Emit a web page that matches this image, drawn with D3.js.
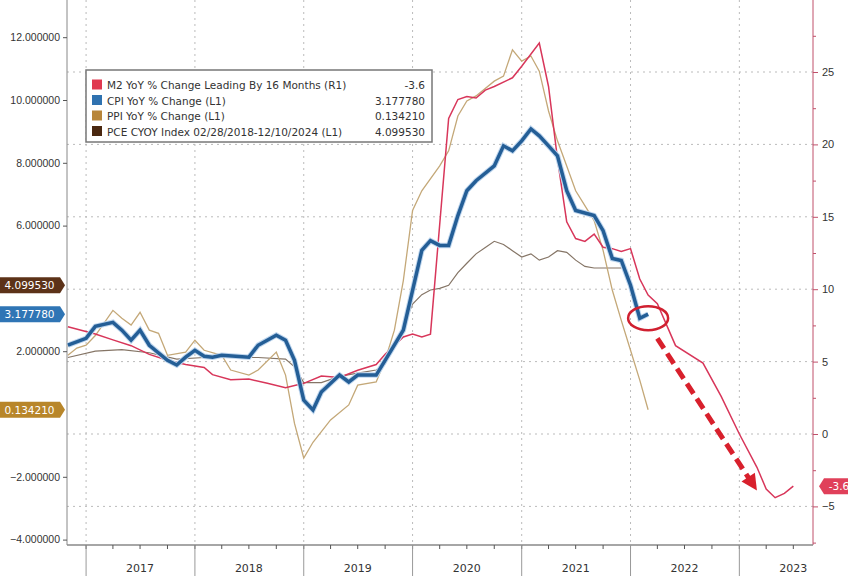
<!DOCTYPE html>
<html><head><meta charset="utf-8">
<script src="https://cdn.jsdelivr.net/npm/d3@7"></script>
<style>body{margin:0;background:#fff}svg{display:block;font-family:"DejaVu Sans",sans-serif}</style>
</head><body><svg id="chart" width="848" height="576"></svg>
<script>
// month index 0 = Nov 2016
const years = ["2017", "2018", "2019", "2020", "2021", "2022", "2023"];
const leftTicks = [-4, -2, 2, 6, 8, 10, 12]; // 0 and 4 sit under the value tags
const rightTicks = [-5, 0, 5, 10, 15, 20, 25];
const m2 = [[0,7.4],[3,6.9],[5,6.5],[7,6.1],[9,5.5],[11,5.1],[13,4.8],[15,4.6],[16,4.1],[18,3.75],[20,3.8],[22,3.5],[24,3.2],[26,3.5],[28,4.0],[30,3.9],[32,4.4],[34,4.8],[35,5.5],[37,6.7],[38,6.9],[39,6.7],[40,6.9],[42,21.8],[43,23.1],[44,23.3],[45,23.2],[46,23.75],[47,24],[49,24.6],[50,25.4],[52,27],[53,24.0],[54,19],[55,14.65],[56,13.5],[57,13.3],[58,13.8],[59,12.9],[60,12.8],[61,12.6],[62,12.8],[63,10.7],[64,9.6],[65,9.0],[67,6.1],[70,4.9],[72,2.6],[74,0],[76,-2.3],[77,-3.8],[78,-4.4],[79,-4.1],[80,-3.6]];
const cpi = [[0,2.19],[2,2.41],[3,2.79],[5,2.92],[6,2.67],[7,2.35],[8,2.67],[9,2.19],[11,1.71],[12,1.56],[13,1.81],[14,2.03],[15,1.84],[16,1.81],[17,1.87],[20,1.81],[21,2.19],[23,2.51],[24,2.35],[25,1.71],[26,0.44],[27,0.13],[28,0.70],[30,1.24],[31,1.02],[32,1.24],[34,1.24],[35,1.71],[37,2.67],[38,3.94],[39,5.21],[40,5.52],[41,5.37],[42,5.37],[43,6.32],[44,7.11],[45,7.43],[47,7.9],[48,8.54],[49,8.38],[50,8.7],[51,9.08],[52,8.86],[53,8.54],[54,8.22],[55,7.11],[56,6.48],[58,6.32],[59,5.84],[60,4.95],[61,4.89],[62,4.1],[63,3.05],[64,3.18]];
const ppi = [[0,1.87],[1,2.1],[2,2.19],[3,2.5],[5,3.3],[6,3.05],[7,2.83],[8,3.24],[9,2.67],[10,2.57],[11,1.87],[13,1.97],[14,2.35],[15,2.03],[17,1.87],[18,1.4],[20,1.24],[21,1.4],[23,1.97],[24,1.24],[25,-0.3],[26,-1.4],[27,-0.9],[29,-0.19],[31,0.29],[32,0.92],[34,1.02],[35,1.71],[36,2.67],[37,4.25],[38,6.48],[39,7.11],[41,7.9],[42,8.38],[43,9.49],[44,9.97],[45,10.13],[47,10.6],[48,10.76],[49,11.6],[50,11.24],[51,11.4],[52,10.92],[53,9.65],[54,8.7],[55,7.9],[56,7.11],[58,6.16],[59,5.21],[60,3.94],[61,2.98],[62,2.03],[63,1.08],[64,0.134]];
const pce = [[0,1.8],[3,2.0],[6,2.05],[9,1.95],[12,1.75],[15,1.8],[18,1.8],[21,1.8],[24,1.75],[25,1.5],[26,1.0],[28,1.0],[30,1.2],[32,1.3],[34,1.4],[35,1.6],[36,2.2],[37,2.8],[38,3.5],[39,3.8],[40,3.95],[41,4.0],[42,4.1],[43,4.5],[44,4.8],[45,5.1],[46,5.3],[47,5.5],[48,5.4],[49,5.2],[50,5.0],[51,5.1],[52,4.9],[53,5.0],[54,5.2],[55,5.15],[56,4.9],[57,4.7],[58,4.65],[59,4.65],[60,4.65],[61,4.65]];
const legendNames = ["M2 YoY % Change Leading By 16 Months (R1)", "CPI YoY % Change (L1)", "PPI YoY % Change (L1)", "PCE CYOY Index 02/28/2018-12/10/2024 (L1)"];
const legendValues = ["-3.6", "3.177780", "0.134210", "4.099530"];

const start = new Date(2016, 10, 1);
const toDate = (i) => d3.timeMonth.offset(start, i);
const svg = d3.select("#chart");
const pLeft = 67, pRight = 813, pTop = 0, pBottom = 545;

const x = d3.scaleTime().domain([new Date(2016, 9, 29), new Date(2023, 8, 5)]).range([pLeft, pRight]);
const yL = d3.scaleLinear().domain([0, 10]).range([414, 100]);
const yR = d3.scaleLinear().domain([0, 25]).range([434, 72]);

// grid
svg.append("g").selectAll("line").data(rightTicks).join("line")
  .attr("x1", pLeft).attr("x2", pRight).attr("y1", (d) => yR(d)).attr("y2", (d) => yR(d))
  .attr("stroke", "#bbb").attr("stroke-dasharray", "2,4");
svg.append("g").selectAll("line").data(years).join("line")
  .attr("x1", (d) => x(new Date(+d, 0, 1))).attr("x2", (d) => x(new Date(+d, 0, 1)))
  .attr("y1", pTop).attr("y2", pBottom).attr("stroke", "#bbb").attr("stroke-dasharray", "2,4");

// axes
const gl = svg.append("g").attr("transform", `translate(${pLeft},0)`)
  .call(d3.axisLeft(yL).tickValues(leftTicks).tickFormat(d3.format(".6f")).tickSize(4).tickPadding(3));
gl.select(".domain").attr("stroke", "#888").attr("d", `M0,${pTop}V${pBottom}`);
gl.selectAll("text").attr("font-size", 10.5).attr("fill", "#333");
gl.selectAll("line").attr("stroke", "#555");

const gr = svg.append("g").attr("transform", `translate(${pRight},0)`)
  .call(d3.axisRight(yR).tickValues(rightTicks).tickSize(5).tickPadding(4));
gr.select(".domain").attr("stroke", "#c0506a").attr("d", `M0,${pTop}V${pBottom}`);
gr.selectAll("text").attr("font-size", 11).attr("fill", "#333");
gr.selectAll("line").attr("stroke", "#c0506a");
svg.append("g").attr("transform", `translate(${pRight},0)`)
  .call(d3.axisRight(yR).tickValues(d3.range(-7.5, 30, 5)).tickSize(3).tickFormat(""))
  .call((g) => g.select(".domain").remove()).selectAll("line").attr("stroke", "#c0506a");

const gx = svg.append("g").attr("transform", `translate(0,${pBottom})`);
gx.append("line").attr("x1", pLeft).attr("x2", pRight).attr("stroke", "#888").attr("stroke-width", 1.5);
gx.selectAll(".q").data(d3.timeMonth.every(3).range(x.domain()[0], x.domain()[1])).join("line")
  .attr("x1", (d) => x(d)).attr("x2", (d) => x(d)).attr("y1", 0).attr("y2", 4).attr("stroke", "#555");
gx.selectAll(".yr").data(years).join("line")
  .attr("x1", (d) => x(new Date(+d, 0, 1))).attr("x2", (d) => x(new Date(+d, 0, 1)))
  .attr("y1", 0).attr("y2", 31).attr("stroke", "#999");
gx.selectAll("text").data(years).join("text")
  .attr("x", (d) => x(new Date(+d, 6, 1))).attr("y", 27).attr("text-anchor", "middle")
  .attr("font-size", 11).attr("fill", "#333").text((d) => d);

// lines
const lineL = d3.line().x((d) => x(toDate(d[0]))).y((d) => yL(d[1]));
const lineR = d3.line().x((d) => x(toDate(d[0]))).y((d) => yR(d[1]));
svg.append("path").datum(pce).attr("d", lineL).attr("fill", "none").attr("stroke", "#857566").attr("stroke-width", 1.2);
svg.append("path").datum(ppi).attr("d", lineL).attr("fill", "none").attr("stroke", "#c4a878").attr("stroke-width", 1.3);
svg.append("path").datum(m2).attr("d", lineR).attr("fill", "none").attr("stroke", "#d8365a").attr("stroke-width", 1.5);
svg.append("path").datum(cpi).attr("d", lineL).attr("fill", "none").attr("stroke", "#bfd6ee").attr("stroke-width", 5.5);
svg.append("path").datum(cpi).attr("d", lineL).attr("fill", "none").attr("stroke", "#245e96").attr("stroke-width", 3.5);

// annotations
const last = cpi[cpi.length - 1];
svg.append("ellipse").attr("cx", x(toDate(last[0] + 0.8))).attr("cy", yL(last[1]) + 4)
  .attr("rx", 20).attr("ry", 12).attr("fill", "none").attr("stroke", "#d02030").attr("stroke-width", 2.5);
const a0 = [x(toDate(65.5)), yR(6.6)], a1 = [x(toDate(76.5)), yR(-3.9)];
svg.append("line").attr("x1", a0[0]).attr("y1", a0[1]).attr("x2", a1[0] - 6).attr("y2", a1[1] - 9)
  .attr("stroke", "#d8202c").attr("stroke-width", 5).attr("stroke-dasharray", "12,6");
const ang = Math.atan2(a1[1] - a0[1], a1[0] - a0[0]);
const head = [[0, 0], [-16, -8], [-16, 8]].map(([px, py]) => [
  a1[0] + px * Math.cos(ang) - py * Math.sin(ang), a1[1] + px * Math.sin(ang) + py * Math.cos(ang)]);
svg.append("polygon").attr("points", head.join(" ")).attr("fill", "#d8202c");

// legend
const lg = svg.append("g");
lg.append("rect").attr("x", 86).attr("y", 70).attr("width", 346).attr("height", 72)
  .attr("fill", "#fff").attr("stroke", "#777").attr("stroke-width", 1.5);
const swatch = ["#e0384f", "#2f72b0", "#b8863a", "#4a2810"];
legendNames.forEach((n, i) => {
  const yy = 85 + i * 15.5;
  lg.append("rect").attr("x", 92).attr("y", yy - 5.5).attr("width", 10).attr("height", 10).attr("fill", swatch[i]);
  lg.append("text").attr("x", 107).attr("y", yy + 4).attr("font-size", 10.5).attr("fill", "#333").text(n);
  lg.append("text").attr("x", 425).attr("y", yy + 4).attr("text-anchor", "end").attr("font-size", 10.5).attr("fill", "#333").text(legendValues[i]);
});

// value tags
function tag(xa, ya, w, txt, bg, dir) {
  const h = 16, g = svg.append("g");
  const p = dir > 0
    ? [[xa - w, ya - h / 2], [xa - 5, ya - h / 2], [xa, ya], [xa - 5, ya + h / 2], [xa - w, ya + h / 2]]
    : [[xa + w, ya - h / 2], [xa + 5, ya - h / 2], [xa, ya], [xa + 5, ya + h / 2], [xa + w, ya + h / 2]];
  g.append("polygon").attr("points", p.join(" ")).attr("fill", bg);
  g.append("text").attr("x", dir > 0 ? xa - w / 2 - 2 : xa + w / 2 + 2).attr("y", ya + 4)
    .attr("text-anchor", "middle").attr("font-size", 10.5).attr("fill", "#fff").text(txt);
}
tag(pLeft - 2, yL(4.09953), 67, "4.099530", "#5c3218", 1);
tag(pLeft - 2, yL(3.17778), 67, "3.177780", "#2f75b5", 1);
tag(pLeft - 2, yL(0.13421), 67, "0.134210", "#b8862a", 1);
tag(pRight + 6, yR(-3.6), 36, "-3.6", "#e0405a", -1);
</script></body></html>
